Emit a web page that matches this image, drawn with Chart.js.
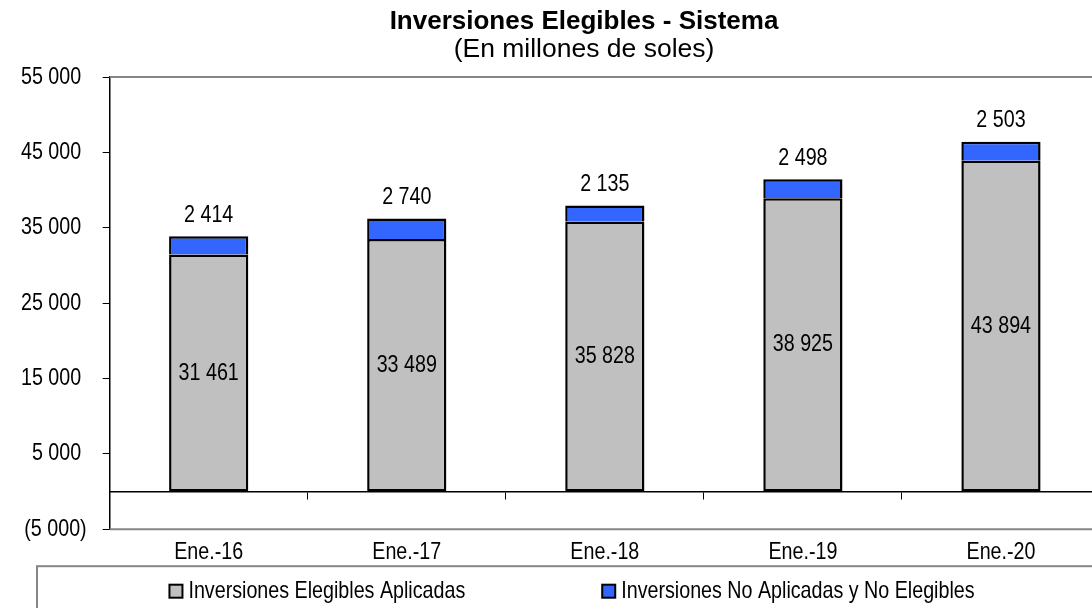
<!DOCTYPE html>
<html>
<head>
<meta charset="utf-8">
<title>Inversiones Elegibles - Sistema</title>
<script src="https://cdn.jsdelivr.net/npm/chart.js@4.4.1/dist/chart.umd.min.js"></script>
<style>
  html, body { margin: 0; padding: 0; background: #fff; overflow: hidden; }
  #wrap { position: absolute; left: 0; top: 0; width: 1168px; height: 640px; }
</style>
</head>
<body>
<div id="wrap"><canvas id="chart"></canvas></div>
<script>
// Inversiones elegibles del sistema, en millones de soles
const fechas = ["Ene.-16", "Ene.-17", "Ene.-18", "Ene.-19", "Ene.-20"];
const aplicadas = [31461, 33489, 35828, 38925, 43894];
const noAplicadas = [2414, 2740, 2135, 2498, 2503];
const ejeMin = -5000;
const ejeMax = 55000;
const ejePaso = 10000;

const TITULO = "Inversiones Elegibles - Sistema";
const SUBTITULO = "(En millones de soles)";

const FUENTE = "'Arial Narrow', 'Liberation Sans', Arial, sans-serif";
const FUENTE_TITULO = "'Liberation Sans', Arial, sans-serif";
const GRIS_MARCO = "#868686";

// sin Arial Narrow instalada: el texto "Narrow" se comprime en horizontal
const ESTRECHO = 0.82;
const ctxProto = CanvasRenderingContext2D.prototype;
const fillTextBase = ctxProto.fillText;
const measureTextBase = ctxProto.measureText;
function esEstrecha(ctx) {
  return ctx.font.indexOf("Narrow") !== -1;
}
ctxProto.fillText = function (texto, x, y, maxAncho) {
  if (!esEstrecha(this)) return fillTextBase.apply(this, arguments);
  this.save();
  this.translate(x, y);
  this.scale(ESTRECHO, 1);
  fillTextBase.call(this, texto, 0, 0);
  this.restore();
};
ctxProto.measureText = function (texto) {
  const m = measureTextBase.call(this, texto);
  if (!esEstrecha(this)) return m;
  return {
    width: m.width * ESTRECHO,
    actualBoundingBoxAscent: m.actualBoundingBoxAscent,
    actualBoundingBoxDescent: m.actualBoundingBoxDescent,
    actualBoundingBoxLeft: m.actualBoundingBoxLeft * ESTRECHO,
    actualBoundingBoxRight: m.actualBoundingBoxRight * ESTRECHO
  };
};

Chart.defaults.font.family = FUENTE;
Chart.defaults.font.size = 24;
Chart.defaults.color = "#000";

// 12345 -> "12 345"
function miles(v) {
  return String(Math.round(Math.abs(v))).replace(/\B(?=(\d{3})+(?!\d))/g, " ");
}
// formato contable: negativos entre paréntesis, positivos con hueco a la derecha
function formato(v) {
  return v < 0 ? "(" + miles(v) + ")" : miles(v) + " ";
}

// título y subtítulo centrados sobre el bloque del gráfico
const titulos = {
  id: "titulos",
  afterDraw(chart) {
    const { ctx } = chart;
    const centro = 584;
    ctx.save();
    ctx.fillStyle = "#000";
    ctx.textAlign = "center";
    ctx.textBaseline = "middle";
    ctx.font = "bold 26px " + FUENTE_TITULO;
    ctx.fillText(TITULO, centro, 22);
    ctx.font = "26.5px " + FUENTE_TITULO;
    ctx.fillText(SUBTITULO, centro, 50);
    ctx.restore();
  }
};

// líneas grises arriba y abajo del área del gráfico
const marco = {
  id: "marco",
  beforeDatasetsDraw(chart) {
    const { ctx, chartArea: a } = chart;
    ctx.save();
    ctx.strokeStyle = GRIS_MARCO;
    ctx.lineWidth = 2;
    ctx.beginPath();
    ctx.moveTo(a.left, a.top);
    ctx.lineTo(a.right + 20, a.top);
    ctx.moveTo(a.left, a.bottom);
    ctx.lineTo(a.right + 20, a.bottom);
    ctx.stroke();
    ctx.restore();
  }
};

// valores: dentro de la barra gris y encima de la azul
const valores = {
  id: "valores",
  afterDatasetsDraw(chart) {
    const { ctx } = chart;
    ctx.save();
    ctx.font = "24px " + FUENTE;
    ctx.fillStyle = "#000";
    ctx.textAlign = "center";
    ctx.textBaseline = "middle";
    chart.getDatasetMeta(0).data.forEach((bar, i) => {
      ctx.fillText(miles(aplicadas[i]), bar.x, (bar.y + bar.base) / 2);
    });
    chart.getDatasetMeta(1).data.forEach((bar, i) => {
      ctx.fillText(miles(noAplicadas[i]), bar.x, bar.y - 21);
    });
    ctx.restore();
  }
};

// leyenda en recuadro bajo el eje
const leyenda = {
  id: "leyenda",
  afterDraw(chart) {
    const { ctx, width, height } = chart;
    const top = chart.chartArea.bottom + 37;
    const cajaIzq = 37;
    const centro = 572;
    const lado = 13;
    const hueco = 6;
    const separacion = 137;
    ctx.save();
    ctx.strokeStyle = GRIS_MARCO;
    ctx.lineWidth = 2;
    ctx.strokeRect(cajaIzq, top, width, height);
    ctx.font = "24px " + FUENTE;
    ctx.textBaseline = "middle";
    ctx.textAlign = "left";
    const items = chart.data.datasets.map(ds => ({
      ds, ancho: lado + hueco + ctx.measureText(ds.label).width
    }));
    const total = items.reduce((s, it) => s + it.ancho, 0) + separacion * (items.length - 1);
    let x = centro - total / 2;
    const yc = top + 25;
    items.forEach(it => {
      ctx.fillStyle = it.ds.backgroundColor;
      ctx.fillRect(x, yc - lado / 2, lado, lado);
      ctx.strokeStyle = "#000";
      ctx.lineWidth = 2;
      ctx.strokeRect(x, yc - lado / 2, lado, lado);
      ctx.fillStyle = "#000";
      ctx.fillText(it.ds.label, x + lado + hueco, yc);
      x += it.ancho + separacion;
    });
    ctx.restore();
  }
};

new Chart(document.getElementById("chart"), {
  type: "bar",
  data: {
    labels: fechas,
    datasets: [
      {
        label: "Inversiones Elegibles Aplicadas",
        data: aplicadas,
        backgroundColor: "#C0C0C0",
        borderColor: "#000",
        borderWidth: 2.5,
        borderSkipped: false
      },
      {
        label: "Inversiones No Aplicadas y No Elegibles",
        data: noAplicadas,
        backgroundColor: "#3366FF",
        borderColor: "#000",
        borderWidth: 2.5,
        borderSkipped: "bottom"
      }
    ]
  },
  options: {
    responsive: true,
    maintainAspectRatio: false,
    animation: false,
    layout: { padding: { left: 5, right: 68, top: 77, bottom: 65 } },
    datasets: { bar: { barPercentage: 0.8, categoryPercentage: 0.5 } },
    scales: {
      x: {
        stacked: true,
        grid: { display: false, drawTicks: false },
        border: { display: false },
        ticks: { padding: 8.5 }
      },
      // eje de categorías sobre la línea del cero, solo con marcas
      x0: {
        type: "category",
        position: { y: 0 },
        offset: true,
        grid: { display: true, drawOnChartArea: false, offset: true, tickLength: 7, color: "#000", lineWidth: 1 },
        border: { display: true, color: "#000", width: 1.5 },
        ticks: { display: false }
      },
      y: {
        stacked: true,
        min: ejeMin,
        max: ejeMax,
        ticks: { stepSize: ejePaso, padding: 16, callback: v => formato(v) },
        grid: { drawOnChartArea: false, tickLength: 7, color: "#000", tickColor: "#000" },
        border: { color: "#000", width: 1.5 }
      }
    },
    plugins: {
      legend: { display: false },
      tooltip: { enabled: false },
      title: { display: false }
    }
  },
  plugins: [titulos, marco, valores, leyenda]
});
</script>
</body>
</html>
